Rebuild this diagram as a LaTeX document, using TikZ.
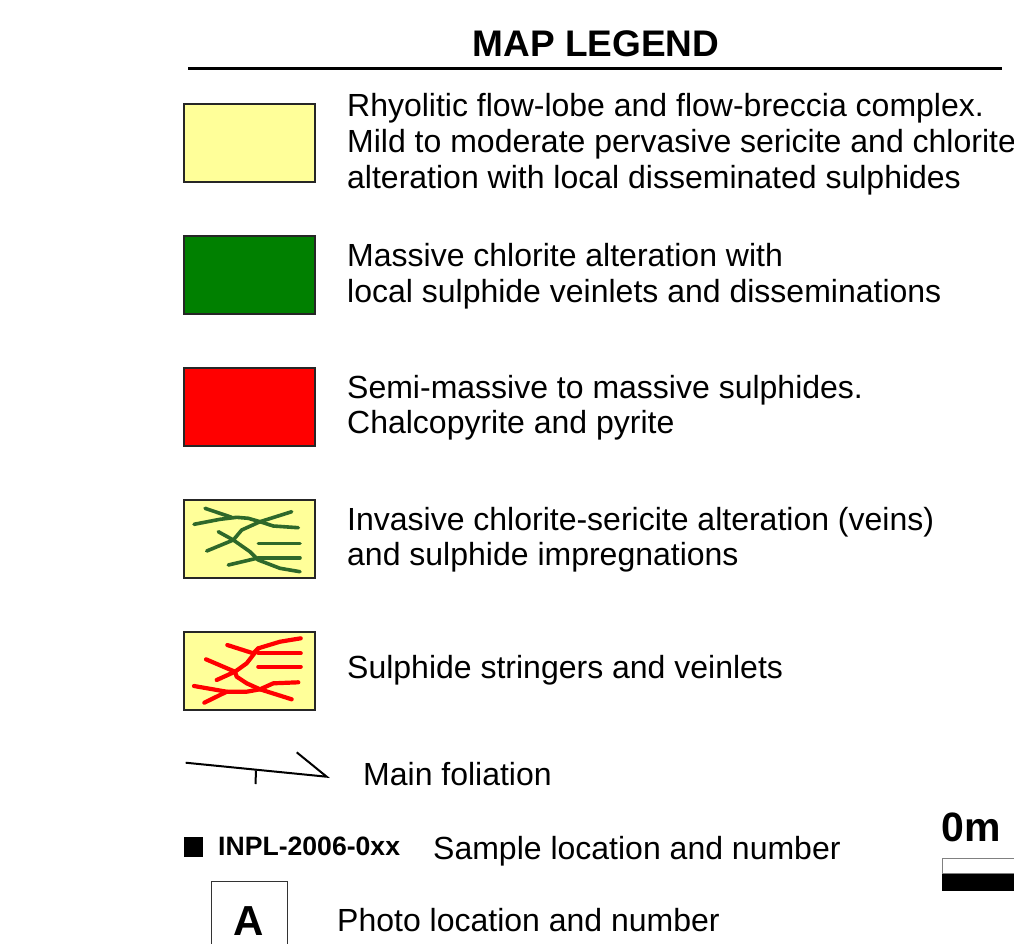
\documentclass[tikz,border=0pt]{standalone}
\usepackage{fontspec}
\setmainfont{Liberation Sans}
\definecolor{legyellow}{RGB}{255,255,153}
\definecolor{leggreen}{RGB}{0,128,0}
\definecolor{legred}{RGB}{255,0,0}
\definecolor{veingreen}{RGB}{46,104,42}
\tikzset{
  txt/.style={anchor=base west,inner sep=0pt,font=\fontsize{32}{36}\selectfont},
  legbox/.style={draw=black!85,line width=2pt,minimum width=131pt,minimum height=78pt,inner sep=0pt},
  gvein/.style={veingreen,line width=3.6pt,line cap=round,line join=round},
  rvein/.style={legred,line width=4.2pt,line cap=round,line join=round},
}
\begin{document}
\begin{tikzpicture}[x=1pt,y=-1pt]
\useasboundingbox (0,0) rectangle (1014,943);
% title
\node[anchor=base,inner sep=0pt,font=\fontsize{37}{41}\selectfont\bfseries] (title) at (596,56) {MAP LEGEND};
\coordinate (ruleL) at (188,68);
\coordinate (ruleR) at (1002,68);
\draw[line width=3pt] (ruleL) -- (ruleR);
% box 1
\node[legbox,fill=legyellow] (b1) at (249.5,142.5) {};
\node[txt] (t1a) at (347,116) {Rhyolitic flow-lobe and flow-breccia complex.};
\node[txt] (t1b) at (347,152) {Mild to moderate pervasive sericite and chlorite};
\node[txt] (t1c) at (347,188) {alteration with local disseminated sulphides};
% box 2
\node[legbox,fill=leggreen] (b2) at (249.5,274.5) {};
\node[txt] (t2a) at (347,266) {Massive chlorite alteration with};
\node[txt] (t2b) at (347,302) {local sulphide veinlets and disseminations};
% box 3
\node[legbox,fill=legred] (b3) at (249.5,406.5) {};
\node[txt] (t3a) at (347,398) {Semi-massive to massive sulphides.};
\node[txt] (t3b) at (347,433) {Chalcopyrite and pyrite};
% box 4
\node[legbox,fill=legyellow] (b4) at (249.5,538.5) {};
\draw[gvein] (194,524.3) -- (220,519.3) -- (236.7,517.3) -- (248.3,518.3) -- (260,521.7) -- (273.3,526) -- (298.3,527.7);
\draw[gvein] (205,508.3) -- (231.7,517.3);
\draw[gvein] (260,521.7) -- (291.7,511.7);
\draw[gvein] (218.3,531.7) -- (233.3,540) -- (250,551.7) -- (258.3,560) -- (280,568.3) -- (300,571.7);
\draw[gvein] (233.3,540) -- (241.7,530) -- (260,521.7);
\draw[gvein] (206.7,551) -- (233.3,540);
\draw[gvein] (258.3,543.3) -- (300,543.3);
\draw[gvein] (258.3,557.7) -- (300,557.7);
\draw[gvein] (228.3,565) -- (256.7,558.3);
\node[txt] (t4a) at (347,530) {Invasive chlorite-sericite alteration (veins)};
\node[txt] (t4b) at (347,565) {and sulphide impregnations};
% box 5
\node[legbox,fill=legyellow] (b5) at (249.5,670.5) {};
\draw[rvein] (227.3,645) -- (253.3,653.3);
\draw[rvein] (253.3,653.3) -- (258.3,648.3) -- (280,641.7) -- (300.7,638.3);
\draw[rvein] (258.3,648.3) -- (246.7,663.3) -- (235,671.7) -- (236.7,676.7) -- (246.7,683.3) -- (260,689.3) -- (291.7,699.3);
\draw[rvein] (258.3,653.3) -- (300.7,653.3);
\draw[rvein] (258.3,666.7) -- (300.7,666.7);
\draw[rvein] (206,659.3) -- (235,671.7);
\draw[rvein] (216.7,680) -- (235,671.7);
\draw[rvein] (194,686) -- (226.7,691.7) -- (246.7,691.7) -- (260,689.3) -- (273.3,683.3) -- (298.3,682.3);
\draw[rvein] (204.3,702.7) -- (226.7,691.7);
\node[txt] (t5a) at (347,678) {Sulphide stringers and veinlets};
% foliation
\coordinate (f1) at (185.7,762.7);
\coordinate (f2) at (326.7,776.7);
\coordinate (f3) at (296.7,752.3);
\coordinate (ft1) at (256,770.5);
\coordinate (ft2) at (255.5,784);
\draw[line width=2pt,line join=miter] (f1) -- (f2) -- (f3);
\draw[line width=2pt] (ft1) -- (ft2);
\node[txt] (t6) at (363,785) {Main foliation};
% sample
\node[fill=black,minimum width=19pt,minimum height=20pt,inner sep=0pt] (sq) at (193.5,847) {};
\node[anchor=base west,inner sep=0pt,font=\fontsize{26.6}{30}\selectfont\bfseries] (inpl) at (218,855) {INPL-2006-0xx};
\node[txt] (t7) at (433,859) {Sample location and number};
% photo
\node[draw=black!80,line width=1pt,minimum width=76pt,minimum height=80pt,inner sep=0pt,anchor=north west] (pbox) at (211,881) {};
\node[anchor=base,inner sep=0pt,font=\fontsize{42}{46}\selectfont\bfseries] (pA) at (249,935) {A};
\node[txt] (t8) at (337,931) {Photo location and number};
% scale bar
\node[anchor=base west,inner sep=0pt,font=\fontsize{41}{45}\selectfont\bfseries] (zero) at (941,841) {0m};
\node[draw=black!50,line width=1pt,fill=white,minimum width=90pt,minimum height=15pt,inner sep=0pt,anchor=north west] (sbw) at (942,858.3) {};
\node[fill=black,minimum width=90pt,minimum height=17pt,inner sep=0pt,anchor=north west] (sbb) at (942,873.3) {};
\end{tikzpicture}
\end{document}
